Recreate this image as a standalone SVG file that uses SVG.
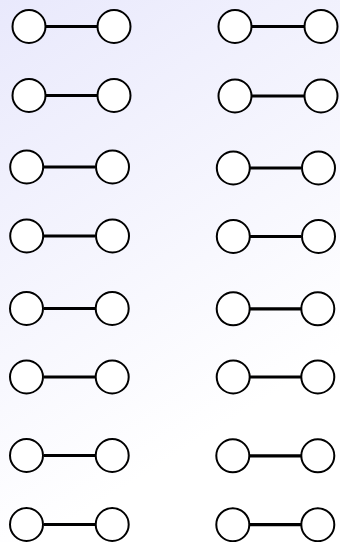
<svg xmlns="http://www.w3.org/2000/svg" width="340" height="542" viewBox="0 0 340 542">
<defs>
<linearGradient id="bg" x1="0" y1="0" x2="340" y2="542" gradientUnits="userSpaceOnUse">
<stop offset="0" stop-color="#E9E9FC"/>
<stop offset="0.75" stop-color="#FFFFFF"/>
</linearGradient>
</defs>
<style>
.n{fill:#fff;stroke:#000;stroke-width:2}
.e{stroke:#000;stroke-width:3.2}
</style>
<rect width="340" height="542" fill="url(#bg)"/>
<g id="connectors">
<line class="e" x1="46" y1="26.5" x2="97" y2="26.5"/>
<line class="e" x1="46" y1="95.5" x2="97" y2="95.5"/>
<line class="e" x1="44" y1="167" x2="95" y2="167"/>
<line class="e" x1="44" y1="236" x2="95" y2="236"/>
<line class="e" x1="44" y1="308.5" x2="95" y2="308.5"/>
<line class="e" x1="44" y1="377" x2="95" y2="377"/>
<line class="e" x1="44" y1="455.5" x2="95" y2="455.5"/>
<line class="e" x1="44" y1="524.5" x2="95" y2="524.5"/>
<line class="e" x1="252" y1="26.5" x2="304" y2="26.5"/>
<line class="e" x1="252" y1="96" x2="304" y2="96"/>
<line class="e" x1="250" y1="168" x2="301" y2="168"/>
<line class="e" x1="250" y1="236.5" x2="301" y2="236.5"/>
<line class="e" x1="250" y1="308.8" x2="301" y2="308.8"/>
<line class="e" x1="250" y1="377" x2="301" y2="377"/>
<line class="e" x1="250" y1="455.8" x2="301" y2="455.8"/>
<line class="e" x1="250" y1="524.7" x2="301" y2="524.7"/>
</g>
<g id="n1a"><circle class="n" cx="29" cy="26.5" r="16.5"/></g>
<g id="n1b"><circle class="n" cx="114" cy="26.5" r="16.5"/></g>
<g id="n2a"><circle class="n" cx="29" cy="95.5" r="16.5"/></g>
<g id="n2b"><circle class="n" cx="114" cy="95.5" r="16.5"/></g>
<g id="n3a"><circle class="n" cx="26.7" cy="167" r="16.5"/></g>
<g id="n3b"><circle class="n" cx="112.5" cy="167" r="16.5"/></g>
<g id="n4a"><circle class="n" cx="26.7" cy="236" r="16.5"/></g>
<g id="n4b"><circle class="n" cx="112.5" cy="236" r="16.5"/></g>
<g id="n5a"><circle class="n" cx="26.5" cy="308.5" r="16.5"/></g>
<g id="n5b"><circle class="n" cx="112.2" cy="308.5" r="16.5"/></g>
<g id="n6a"><circle class="n" cx="26.5" cy="377" r="16.5"/></g>
<g id="n6b"><circle class="n" cx="112.2" cy="377" r="16.5"/></g>
<g id="n7a"><circle class="n" cx="26.5" cy="455.5" r="16.5"/></g>
<g id="n7b"><circle class="n" cx="112.2" cy="455.5" r="16.5"/></g>
<g id="n8a"><circle class="n" cx="26.5" cy="524.5" r="16.5"/></g>
<g id="n8b"><circle class="n" cx="112.2" cy="524.5" r="16.5"/></g>
<g id="m1a"><circle class="n" cx="235" cy="26.5" r="16.5"/></g>
<g id="m1b"><circle class="n" cx="321" cy="26.5" r="16.5"/></g>
<g id="m2a"><circle class="n" cx="235" cy="96" r="16.5"/></g>
<g id="m2b"><circle class="n" cx="321" cy="96" r="16.5"/></g>
<g id="m3a"><circle class="n" cx="233.3" cy="168" r="16.5"/></g>
<g id="m3b"><circle class="n" cx="318.5" cy="168" r="16.5"/></g>
<g id="m4a"><circle class="n" cx="233.3" cy="236.5" r="16.5"/></g>
<g id="m4b"><circle class="n" cx="318.5" cy="236.5" r="16.5"/></g>
<g id="m5a"><circle class="n" cx="233.2" cy="308.8" r="16.5"/></g>
<g id="m5b"><circle class="n" cx="317.8" cy="308.8" r="16.5"/></g>
<g id="m6a"><circle class="n" cx="233.2" cy="377" r="16.5"/></g>
<g id="m6b"><circle class="n" cx="317.8" cy="377" r="16.5"/></g>
<g id="m7a"><circle class="n" cx="232.8" cy="455.8" r="16.5"/></g>
<g id="m7b"><circle class="n" cx="317.8" cy="455.8" r="16.5"/></g>
<g id="m8a"><circle class="n" cx="232.8" cy="524.7" r="16.5"/></g>
<g id="m8b"><circle class="n" cx="317.8" cy="524.7" r="16.5"/></g>
</svg>
